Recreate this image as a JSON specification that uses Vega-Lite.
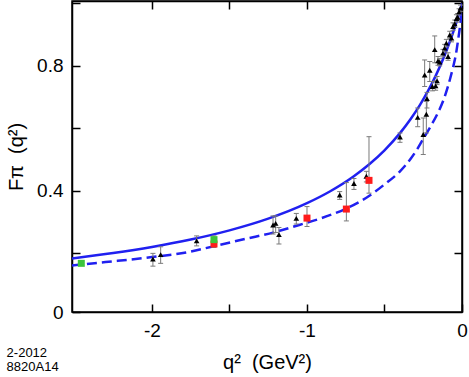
{
  "$schema": "https://vega.github.io/schema/vega-lite/v6.json",
  "width": 390,
  "height": 311,
  "autosize": {"type": "none"},
  "padding": {"left": 72, "top": 1, "right": 7, "bottom": 65},
  "background": "white",
  "config": {
    "view": {"stroke": "black", "strokeWidth": 1.5},
    "font": "Liberation Sans",
    "axis": {
      "labelFont": "Liberation Sans", "titleFont": "Liberation Sans",
      "labelFontSize": 19, "titleFontSize": 20, "titleFontWeight": "normal",
      "labelColor": "black", "titleColor": "black",
      "tickColor": "black", "tickWidth": 1.5, "tickSize": -8,
      "domainColor": "black", "domainWidth": 1.5, "grid": false,
      "labelOverlap": false, "labelFlush": false, "labelBound": false
    }
  },
  "title": {
    "text": ["2-2012", "8820A14"],
    "orient": "bottom", "anchor": "start", "frame": "bounds",
    "font": "Liberation Sans", "fontSize": 13, "fontWeight": "normal",
    "lineHeight": 14, "color": "black", "offset": 0, "dy": -25
  },
  "datasets": {
    "solid": [
      {"q": -2.516, "F": 0.1827}, {"q": -2.25, "F": 0.2}, {"q": -2.0, "F": 0.2195},
      {"q": -1.75, "F": 0.2432}, {"q": -1.5, "F": 0.2727}, {"q": -1.25, "F": 0.3103},
      {"q": -1.0, "F": 0.36}, {"q": -0.85, "F": 0.3982}, {"q": -0.7, "F": 0.4455},
      {"q": -0.6, "F": 0.4839}, {"q": -0.5, "F": 0.5294}, {"q": -0.4, "F": 0.5844},
      {"q": -0.33, "F": 0.6303}, {"q": -0.27, "F": 0.6757}, {"q": -0.22, "F": 0.7189},
      {"q": -0.17, "F": 0.7679}, {"q": -0.13, "F": 0.8123}, {"q": -0.1, "F": 0.8491},
      {"q": -0.07, "F": 0.8893}, {"q": -0.045, "F": 0.9259}, {"q": -0.025, "F": 0.9574},
      {"q": -0.01, "F": 0.9825}, {"q": 0, "F": 1.0}
    ],
    "dashed": [
      {"q": -2.516, "F": 0.16}, {"q": -2.3, "F": 0.171}, {"q": -2.0, "F": 0.187},
      {"q": -1.8, "F": 0.2}, {"q": -1.6, "F": 0.222}, {"q": -1.4, "F": 0.245},
      {"q": -1.2, "F": 0.268}, {"q": -1.05, "F": 0.29}, {"q": -0.9, "F": 0.313},
      {"q": -0.75, "F": 0.342}, {"q": -0.6, "F": 0.383}, {"q": -0.5, "F": 0.42},
      {"q": -0.4, "F": 0.462}, {"q": -0.33, "F": 0.503}, {"q": -0.29, "F": 0.532},
      {"q": -0.25, "F": 0.566}, {"q": -0.2, "F": 0.608}, {"q": -0.15, "F": 0.655},
      {"q": -0.12, "F": 0.69}, {"q": -0.09, "F": 0.735}, {"q": -0.075, "F": 0.762},
      {"q": -0.058, "F": 0.795}, {"q": -0.04, "F": 0.835}, {"q": -0.026, "F": 0.88},
      {"q": -0.012, "F": 0.93}, {"q": 0, "F": 0.985}
    ],
    "pts": [
      {"kind": "tri", "q": -1.994, "F": 0.181, "lo": 0.158, "hi": 0.199},
      {"kind": "tri", "q": -1.944, "F": 0.195, "lo": 0.167, "hi": 0.22},
      {"kind": "tri", "q": -1.712, "F": 0.239, "lo": 0.223, "hi": 0.255},
      {"kind": "tri", "q": -1.219, "F": 0.29, "lo": 0.261, "hi": 0.319},
      {"kind": "tri", "q": -1.202, "F": 0.295, "lo": 0.266, "hi": 0.319},
      {"kind": "tri", "q": -1.181, "F": 0.259, "lo": 0.229, "hi": 0.282},
      {"kind": "tri", "q": -1.069, "F": 0.311, "lo": 0.293, "hi": 0.327},
      {"kind": "tri", "q": -0.789, "F": 0.386, "lo": 0.372, "hi": 0.397},
      {"kind": "tri", "q": -0.697, "F": 0.423, "lo": 0.404, "hi": 0.439},
      {"kind": "tri", "q": -0.617, "F": 0.446, "lo": 0.428, "hi": 0.462},
      {"kind": "tri", "q": -0.4, "F": 0.572, "lo": 0.555, "hi": 0.585},
      {"kind": "tri", "q": -0.286, "F": 0.635, "lo": 0.605, "hi": 0.665},
      {"kind": "tri", "q": -0.23, "F": 0.645, "lo": 0.585, "hi": 0.686},
      {"kind": "tri", "q": -0.25, "F": 0.58, "lo": 0.516, "hi": 0.633},
      {"kind": "tri", "q": -0.241, "F": 0.771, "lo": 0.734, "hi": 0.819},
      {"kind": "tri", "q": -0.226, "F": 0.695, "lo": 0.665, "hi": 0.715},
      {"kind": "tri", "q": -0.208, "F": 0.786, "lo": 0.75, "hi": 0.814},
      {"kind": "tri", "q": -0.176, "F": 0.852, "lo": 0.81, "hi": 0.896},
      {"kind": "tri", "q": -0.191, "F": 0.734, "lo": 0.72, "hi": 0.75},
      {"kind": "tri", "q": -0.17, "F": 0.736, "lo": 0.722, "hi": 0.752},
      {"kind": "tri", "q": -0.161, "F": 0.752, "lo": 0.74, "hi": 0.766},
      {"kind": "tri", "q": -0.155, "F": 0.816, "lo": 0.802, "hi": 0.83},
      {"kind": "tri", "q": -0.144, "F": 0.812, "lo": 0.8, "hi": 0.824},
      {"kind": "tri", "q": -0.123, "F": 0.841, "lo": 0.829, "hi": 0.853},
      {"kind": "tri", "q": -0.112, "F": 0.857, "lo": 0.845, "hi": 0.869},
      {"kind": "tri", "q": -0.101, "F": 0.873, "lo": 0.861, "hi": 0.885},
      {"kind": "tri", "q": -0.09, "F": 0.83, "lo": 0.818, "hi": 0.842},
      {"kind": "tri", "q": -0.079, "F": 0.899, "lo": 0.887, "hi": 0.911},
      {"kind": "tri", "q": -0.068, "F": 0.889, "lo": 0.877, "hi": 0.901},
      {"kind": "tri", "q": -0.058, "F": 0.926, "lo": 0.914, "hi": 0.938},
      {"kind": "tri", "q": -0.047, "F": 0.935, "lo": 0.923, "hi": 0.947},
      {"kind": "tri", "q": -0.036, "F": 0.952, "lo": 0.94, "hi": 0.964},
      {"kind": "tri", "q": -0.028, "F": 0.956, "lo": 0.944, "hi": 0.968},
      {"kind": "tri", "q": -0.019, "F": 0.973, "lo": 0.963, "hi": 0.983},
      {"kind": "tri", "q": -0.01, "F": 0.985, "lo": 0.975, "hi": 0.995},
      {"kind": "red", "q": -1.0, "F": 0.312, "lo": 0.285, "hi": 0.349},
      {"kind": "red", "q": -0.746, "F": 0.341, "lo": 0.303, "hi": 0.426},
      {"kind": "red", "q": -0.6, "F": 0.433, "lo": 0.392, "hi": 0.573},
      {"kind": "red", "q": -1.6, "F": 0.229, "lo": 0.218, "hi": 0.245},
      {"kind": "green", "q": -1.6, "F": 0.243, "lo": 0.235, "hi": 0.255},
      {"kind": "green", "q": -2.456, "F": 0.167}
    ]
  },
  "resolve": {"axis": {"x": "independent", "y": "independent"}},
  "layer": [
    {
      "data": {"name": "solid"},
      "mark": {"type": "line", "color": "#2020f0", "strokeWidth": 2.5, "interpolate": "monotone", "clip": true},
      "encoding": {
        "x": {
          "field": "q", "type": "quantitative",
          "scale": {"domain": [-2.516, 0], "nice": false, "zero": false},
          "axis": {
            "orient": "bottom", "values": [-2, -1.5, -1, -0.5, 0],
            "labelExpr": "datum.value % 1 == 0 ? '' + datum.value : ''",
            "labelPadding": 17, "title": "q²\u00a0\u00a0(GeV²)", "titlePadding": 12
          }
        },
        "y": {
          "field": "F", "type": "quantitative",
          "scale": {"domain": [0.011, 1.008], "nice": false, "zero": false},
          "axis": {
            "orient": "left", "values": [0.011, 0.2, 0.4, 0.6, 0.8, 1.0],
            "labelExpr": "datum.value < 0.1 ? '0' : (abs(datum.value - 0.4) < 0.01 ? '0.4' : (abs(datum.value - 0.8) < 0.01 ? '0.8' : ''))",
            "labelPadding": 17, "title": "Fπ\u00a0\u00a0(q²)", "titlePadding": 10
          }
        }
      }
    },
    {
      "data": {"name": "dashed"},
      "mark": {"type": "line", "color": "#2020f0", "strokeWidth": 2.5, "strokeDash": [10, 5], "interpolate": "monotone", "clip": true},
      "encoding": {
        "x": {
          "field": "q", "type": "quantitative",
          "scale": {"domain": [-2.516, 0], "nice": false, "zero": false},
          "axis": {"orient": "top", "values": [-2, -1.5, -1, -0.5, 0], "labels": false, "title": null}
        },
        "y": {
          "field": "F", "type": "quantitative",
          "scale": {"domain": [0.011, 1.008], "nice": false, "zero": false},
          "axis": {"orient": "right", "values": [0.2, 0.4, 0.6, 0.8, 1.0], "labels": false, "title": null}
        }
      }
    },
    {
      "data": {"name": "pts"},
      "transform": [{"filter": "isValid(datum.lo)"}],
      "mark": {"type": "rule", "color": "#7a7a7a", "strokeWidth": 1},
      "encoding": {
        "x": {"field": "q", "type": "quantitative", "axis": null},
        "y": {"field": "lo", "type": "quantitative", "axis": null},
        "y2": {"field": "hi"}
      }
    },
    {
      "data": {"name": "pts"},
      "transform": [{"filter": "isValid(datum.lo)"}],
      "mark": {"type": "tick", "orient": "horizontal", "size": 5, "thickness": 1, "color": "#7a7a7a", "opacity": 1},
      "encoding": {
        "x": {"field": "q", "type": "quantitative", "axis": null},
        "y": {"field": "lo", "type": "quantitative", "axis": null}
      }
    },
    {
      "data": {"name": "pts"},
      "transform": [{"filter": "isValid(datum.hi)"}],
      "mark": {"type": "tick", "orient": "horizontal", "size": 5, "thickness": 1, "color": "#7a7a7a", "opacity": 1},
      "encoding": {
        "x": {"field": "q", "type": "quantitative", "axis": null},
        "y": {"field": "hi", "type": "quantitative", "axis": null}
      }
    },
    {
      "data": {"name": "pts"},
      "transform": [{"filter": "datum.kind == 'tri'"}],
      "mark": {"type": "point", "shape": "triangle-up", "filled": true, "color": "black", "size": 32, "opacity": 1},
      "encoding": {
        "x": {"field": "q", "type": "quantitative", "axis": null},
        "y": {"field": "F", "type": "quantitative", "axis": null}
      }
    },
    {
      "data": {"name": "pts"},
      "transform": [{"filter": "datum.kind != 'tri'"}],
      "mark": {"type": "square", "filled": true, "size": 49, "opacity": 1},
      "encoding": {
        "x": {"field": "q", "type": "quantitative", "axis": null},
        "y": {"field": "F", "type": "quantitative", "axis": null},
        "color": {
          "field": "kind", "type": "nominal",
          "scale": {"domain": ["red", "green"], "range": ["#ff1a1a", "#3cc43c"]},
          "legend": null
        }
      }
    }
  ]
}
